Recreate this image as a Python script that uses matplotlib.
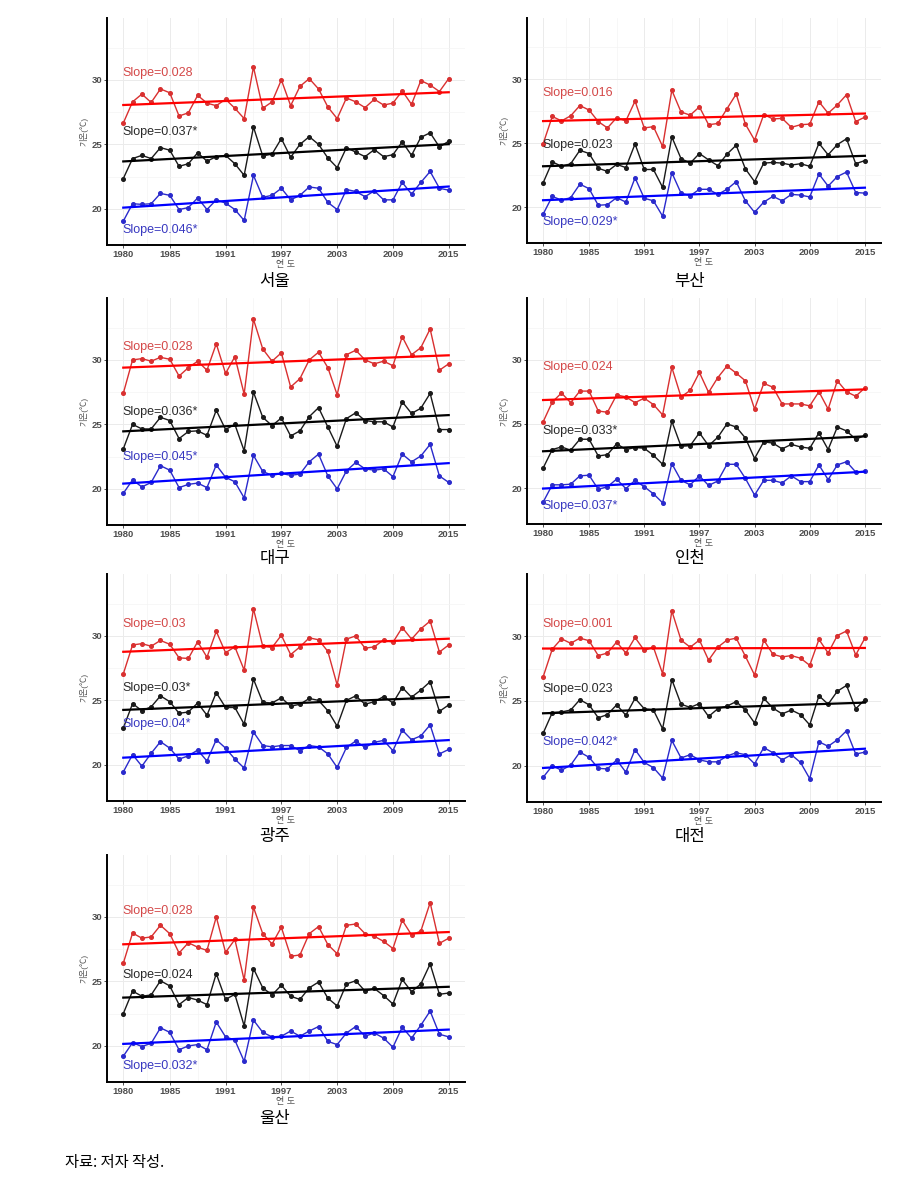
import numpy as np
import matplotlib
matplotlib.use('Agg')
import matplotlib.pyplot as plt

plt.rcParams['font.family'] = ['Liberation Sans', 'Noto Sans CJK KR', 'DejaVu Sans']

years = np.arange(1980, 2016)
xticks = [1980, 1985, 1991, 1997, 2003, 2009, 2015]
cities = ['서울', '부산', '대구', '인천', '광주', '대전', '울산']

# max / mean / min temperature per city
seoul_max = [26.65,28.3,28.9,28.25,29.3,29.0,27.2,27.45,28.8,28.2,28.0,28.5,27.8,27.0,31.0,27.8,28.3,30.0,28.0,29.5,30.1,29.3,27.9,27.0,28.6,28.3,27.85,28.5,28.05,28.2,29.15,28.1,29.95,29.6,29.1,30.1]
seoul_mean = [22.35,23.9,24.15,23.9,24.75,24.55,23.3,23.5,24.35,23.7,24.05,24.15,23.5,22.6,26.35,24.1,24.25,25.45,24.0,25.0,25.6,25.0,23.95,23.2,24.75,24.4,24.05,24.6,24.05,24.2,25.2,24.15,25.55,25.9,24.8,25.25]
seoul_min = [19.05,20.4,20.35,20.4,21.2,21.05,19.95,20.1,20.85,19.95,20.7,20.45,19.95,19.1,22.6,20.9,21.05,21.6,20.7,21.05,21.7,21.6,20.5,19.95,21.5,21.35,20.95,21.4,20.7,20.7,22.05,21.15,22.05,22.9,21.6,21.45]

busan_max = [24.95,27.1,26.75,27.15,27.95,27.6,26.7,26.2,27.0,26.75,28.3,26.2,26.3,24.75,29.15,27.45,27.2,27.85,26.45,26.55,27.7,28.85,26.5,25.25,27.25,26.9,26.95,26.25,26.45,26.5,28.25,27.35,28.0,28.8,26.7,27.05]
busan_mean = [21.9,23.55,23.2,23.4,24.45,24.2,23.05,22.8,23.35,23.1,24.95,22.95,22.95,21.55,25.5,23.8,23.45,24.2,23.7,23.25,24.15,24.85,23.0,22.0,23.45,23.5,23.45,23.3,23.4,23.2,25.0,24.1,24.9,25.35,23.4,23.65]
busan_min = [19.45,20.85,20.55,20.75,21.8,21.45,20.15,20.2,20.75,20.4,22.3,20.7,20.5,19.3,22.7,21.1,20.9,21.4,21.4,21.0,21.4,22.0,20.5,19.6,20.4,20.85,20.5,21.0,20.95,20.8,22.6,21.65,22.4,22.75,21.15,21.1]

daegu_max = [27.4,30.0,30.1,29.9,30.2,30.05,28.75,29.4,29.9,29.2,31.25,28.95,30.25,27.35,33.15,30.85,29.9,30.55,27.9,28.55,30.0,30.6,29.4,27.3,30.4,30.75,30.0,29.7,29.9,29.55,31.8,30.4,30.95,32.4,29.2,29.7]
daegu_mean = [23.1,25.0,24.65,24.65,25.55,25.3,23.9,24.45,24.5,24.15,26.1,24.6,25.0,22.95,27.5,25.55,24.9,25.5,24.1,24.5,25.6,26.3,24.8,23.3,25.45,25.9,25.3,25.2,25.2,24.8,26.75,25.85,26.25,27.4,24.6,24.6]
daegu_min = [19.65,20.7,20.15,20.5,21.8,21.45,20.1,20.35,20.45,20.1,21.85,20.9,20.55,19.3,22.6,21.35,21.05,21.2,21.05,21.15,22.1,22.7,21.0,20.0,21.4,22.05,21.55,21.45,21.55,20.95,22.7,22.1,22.55,23.45,21.0,20.5]

incheon_max = [25.15,26.7,27.4,26.65,27.55,27.55,26.0,25.9,27.25,27.1,26.65,27.0,26.5,25.7,29.4,27.1,27.6,29.0,27.45,28.6,29.5,28.95,28.35,26.15,28.15,27.85,26.55,26.55,26.55,26.4,27.5,26.15,28.35,27.5,27.15,27.8]
incheon_mean = [21.55,23.0,23.2,22.95,23.8,23.8,22.5,22.6,23.45,23.0,23.15,23.1,22.55,21.85,25.2,23.25,23.3,24.3,23.3,23.95,25.0,24.75,23.9,22.3,23.6,23.5,23.05,23.4,23.2,23.1,24.3,23.0,24.75,24.45,23.8,24.1]
incheon_min = [18.9,20.25,20.25,20.3,20.95,21.0,19.9,20.1,20.7,19.95,20.6,20.1,19.55,18.85,21.9,20.6,20.25,20.95,20.2,20.55,21.85,21.85,20.75,19.45,20.6,20.6,20.4,20.95,20.5,20.5,21.8,20.65,21.8,22.05,21.25,21.3]

gwangju_max = [27.05,29.3,29.4,29.2,29.65,29.35,28.3,28.25,29.55,28.35,30.35,28.7,29.15,27.35,32.1,29.2,29.1,30.05,28.55,29.15,29.85,29.7,28.8,26.2,29.75,30.0,29.05,29.15,29.7,29.5,30.65,29.75,30.55,31.15,28.75,29.3]
gwangju_mean = [22.85,24.75,24.2,24.5,25.35,24.9,24.0,24.1,24.8,23.85,25.6,24.45,24.45,23.15,26.65,24.85,24.8,25.2,24.55,24.7,25.15,25.0,24.2,23.0,25.0,25.35,24.7,24.9,25.3,24.8,26.0,25.25,25.8,26.45,24.15,24.65]
gwangju_min = [19.45,20.8,19.9,20.9,21.8,21.3,20.45,20.7,21.15,20.3,21.95,21.3,20.45,19.75,22.55,21.5,21.4,21.5,21.5,21.1,21.5,21.4,20.85,19.8,21.35,21.85,21.35,21.75,21.9,21.1,22.7,21.95,22.25,23.1,20.85,21.2]

daejeon_max = [26.85,29.0,29.8,29.45,29.85,29.65,28.5,28.7,29.55,28.7,29.9,28.9,29.15,27.1,31.95,29.7,29.15,29.7,28.15,29.15,29.7,29.85,28.45,27.0,29.7,28.6,28.4,28.5,28.3,27.75,29.75,28.7,30.05,30.4,28.55,29.85]
daejeon_mean = [22.5,24.1,24.15,24.3,25.1,24.7,23.7,23.95,24.7,23.9,25.2,24.4,24.3,22.85,26.65,24.75,24.5,24.8,23.8,24.4,24.6,24.95,24.3,23.3,25.2,24.45,24.0,24.3,23.95,23.15,25.4,24.75,25.75,26.2,24.4,25.1]
daejeon_min = [19.1,20.0,19.65,20.05,21.05,20.65,19.8,19.75,20.45,19.5,21.25,20.25,19.85,19.05,21.95,20.6,20.85,20.45,20.3,20.3,20.75,21.0,20.85,20.15,21.4,21.0,20.45,20.85,20.25,19.0,21.85,21.5,22.0,22.7,20.9,21.05]

ulsan_max = [26.4,28.75,28.35,28.45,29.35,28.7,27.2,28.0,27.65,27.4,30.0,27.25,28.25,25.1,30.75,28.7,27.9,29.2,26.95,27.05,28.7,29.25,27.85,27.15,29.35,29.45,28.7,28.5,28.1,27.55,29.75,28.6,28.9,31.1,27.95,28.35]
ulsan_mean = [22.5,24.25,23.85,23.95,25.05,24.65,23.2,23.75,23.55,23.2,25.6,23.6,24.0,21.55,26.0,24.5,23.95,24.7,23.85,23.6,24.5,24.95,23.7,23.1,24.8,25.05,24.25,24.45,23.9,23.25,25.15,24.2,24.8,26.35,24.0,24.1]
ulsan_min = [19.2,20.25,19.95,20.2,21.4,21.05,19.7,20.0,20.1,19.7,21.85,20.7,20.45,18.8,22.0,21.05,20.7,20.75,21.15,20.75,21.15,21.5,20.35,20.1,21.0,21.5,20.75,21.0,20.6,19.9,21.45,20.6,21.6,22.7,20.9,20.7]

slope_max = ['0.028', '0.016', '0.028', '0.024', '0.03', '0.001', '0.028']
slope_mean = ['0.037*', '0.023', '0.036*', '0.033*', '0.03*', '0.023', '0.024']
slope_min = ['0.046*', '0.029*', '0.045*', '0.037*', '0.04*', '0.042*', '0.032*']

all_data = [
    (seoul_max, seoul_mean, seoul_min),
    (busan_max, busan_mean, busan_min),
    (daegu_max, daegu_mean, daegu_min),
    (incheon_max, incheon_mean, incheon_min),
    (gwangju_max, gwangju_mean, gwangju_min),
    (daejeon_max, daejeon_mean, daejeon_min),
    (ulsan_max, ulsan_mean, ulsan_min),
]

# label y positions (data units) for max / mean / min slope text
label_y = [(30.5, 26.0, 18.35), (28.95, 24.9, 18.85), (31.0, 25.97, 22.45),
           (29.45, 24.45, 18.6), (30.95, 25.95, 23.2), (30.95, 25.95, 21.8),
           (30.45, 25.5, 18.45)]

W, H = 917, 1182
fig = plt.figure(figsize=(W / 100, H / 100), dpi=100)
fig.patch.set_facecolor('white')

# pixel boxes: left, top, right, bottom
boxes = [(107, 18, 465, 245), (527, 18, 881, 243),
         (107, 298, 465, 525), (527, 298, 881, 524),
         (107, 574, 465, 801), (527, 574, 881, 802),
         (107, 855, 465, 1082)]
cap_pos = [(275, 281), (690, 281), (275, 558), (690, 558),
           (275, 837), (690, 837), (275, 1118)]

series_style = [('#d93030', 'red', '#d44848'),
                ('#1a1a1a', 'black', '#2a2a2a'),
                ('#2a2acc', 'blue', '#3838c0')]

for i, city in enumerate(cities):
    l, t, r, b = boxes[i]
    ax = fig.add_axes([l / W, 1 - b / H, (r - l) / W, (b - t) / H])
    ax.set_xlim(1978.25, 2016.75)
    ax.set_ylim(17.2, 34.8)
    ax.set_xticks(xticks)
    ax.set_xticks([1982.5, 1988, 1994, 2000, 2006, 2012], minor=True)
    ax.set_yticks([20, 25, 30])
    ax.set_yticks([22.5, 27.5, 32.5], minor=True)
    ax.grid(True, which='major', color='#ebebeb', lw=0.7)
    ax.grid(True, which='minor', color='#f4f4f4', lw=0.5)
    ax.set_axisbelow(True)
    for s in ['top', 'right']:
        ax.spines[s].set_visible(False)
    for s in ['left', 'bottom']:
        ax.spines[s].set_color('black')
        ax.spines[s].set_linewidth(1.4)
    ax.tick_params(which='major', length=2, width=0.6, colors='#333333',
                   labelsize=6.8, pad=1.5)
    ax.tick_params(which='minor', length=0)
    for lab in ax.get_xticklabels() + ax.get_yticklabels():
        lab.set_fontweight('bold')
        lab.set_color('#4d4d4d')
    ax.set_xlabel('연 도', fontsize=6.5, color='#555555', labelpad=0.5)
    ax.set_ylabel('기온(℃)', fontsize=6, color='#555555', labelpad=2)

    slopes = (slope_max[i], slope_mean[i], slope_min[i])
    for k, vals in enumerate(all_data[i]):
        pc, lc, tc = series_style[k]
        vals = np.array(vals)
        ax.plot(years, vals, color=pc, lw=1.0, marker='o', ms=2.6, zorder=3)
        p = np.polyfit(years, vals, 1)
        ax.plot(years, np.polyval(p, years), color=lc, lw=1.6, zorder=4)
        ax.text(1979.9, label_y[i][k], 'Slope=' + slopes[k], color=tc,
                fontsize=9, va='center', ha='left', zorder=5)

    cx, cy = cap_pos[i]
    fig.text(cx / W, 1 - cy / H, city, fontsize=12, ha='center', va='center',
             family=['Noto Sans CJK KR', 'DejaVu Sans'])

fig.text(65 / W, 1 - 1162 / H, '자료: 저자 작성.', fontsize=11, ha='left',
         va='center', family=['Noto Sans CJK KR', 'DejaVu Sans'])

fig.savefig('out.png', dpi=100)
